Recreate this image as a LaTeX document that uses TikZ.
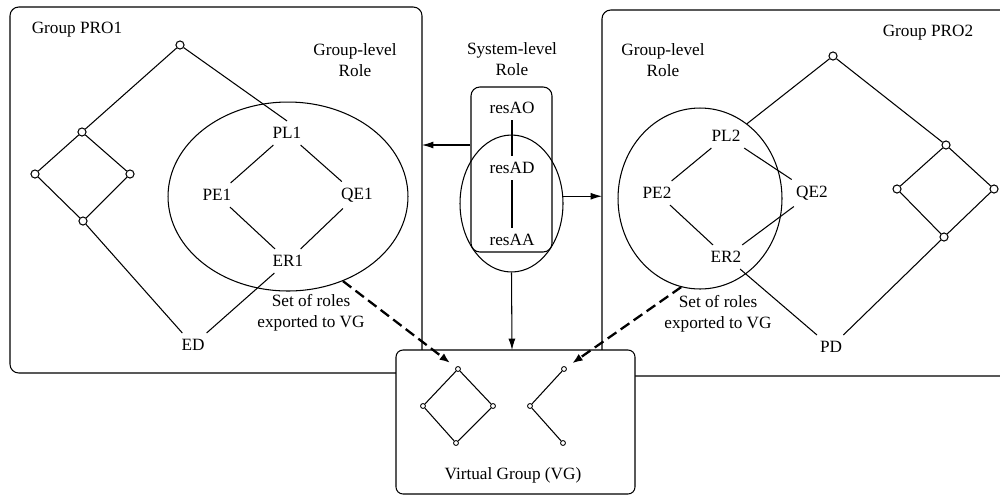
\documentclass[tikz,border=0pt]{standalone}
\usepackage{fontspec}
\setmainfont{Liberation Serif}
\usetikzlibrary{shapes.geometric,arrows.meta}

\begin{document}
\begin{tikzpicture}[x=0.02cm, y=-0.02cm, line width=0.6pt,
    every node/.style={font=\fontsize{9.8}{11.8}\selectfont},
    vtx/.style={circle, draw, fill=white, inner sep=0pt, minimum size=4.6pt},
    svtx/.style={circle, draw, fill=white, inner sep=0pt, minimum size=2.8pt, line width=0.5pt},
    roleset/.style={ellipse, draw, inner sep=0pt},
    toward/.style={-{Latex[length=6.5pt,width=4pt]}},
    export/.style={-{Latex[length=6pt,width=4.5pt]}, line width=1.3pt, dash pattern=on 6pt off 3pt, shorten >=4pt}]
    \useasboundingbox (0,0) rectangle (1000,495);
    \clip (0,0) rectangle (1000,495);

    % Draw the two group boxes
    \draw[rounded corners=5pt] (10,7) rectangle (422,373);
    \draw[rounded corners=5pt] (602,10) rectangle (1012,376);
    \coordinate (pro1e) at (422,145);
    \coordinate (pro2w) at (602,196);

    % Group PRO1
    \node at (77,30) {Group PRO1};
    \node[align=center] at (355,60) {Group-level\\Role};
    \node[vtx] (a1) at (180,45) {};
    \node[vtx] (a2) at (82,132) {};
    \node[vtx] (a3) at (35,174) {};
    \node[vtx] (a4) at (130,174) {};
    \node[vtx] (a5) at (83,221) {};
    \node[roleset, minimum width=4.8cm, minimum height=3.78cm] (ell1) at (288,196.5) {};
    \node (pl1) at (287,133) {PL1};
    \node (pe1) at (217,195) {PE1};
    \node (qe1) at (357,195) {QE1};
    \node (er1) at (288,261) {ER1};
    \node (ed) at (193,345) {ED};
    \node[align=center] at (311,313) {Set of roles\\exported to VG};
    \draw (a1) -- (pl1.north); % top to PL1
    \draw (a1) -- (a2);
    \draw (a2) -- (a3) -- (a5) -- (a4) -- (a2); % diamond
    \draw (a5) -- (ed);
    \draw (pl1) -- (pe1);
    \draw (pl1) -- (qe1);
    \draw (pe1) -- (er1);
    \draw (qe1) -- (er1);
    \draw (er1) -- (ed);

    % Group PRO2
    \node at (928,33) {Group PRO2};
    \node[align=center] at (663,60) {Group-level\\Role};
    \node[vtx] (b1) at (833,56) {};
    \node[vtx] (b2) at (946,145) {};
    \node[vtx] (b3) at (897,189) {};
    \node[vtx] (b4) at (994,189) {};
    \node[vtx] (b5) at (944,237) {};
    \node[roleset, minimum width=3.28cm, minimum height=3.62cm] (ell2) at (700,198.5) {};
    \node (pl2) at (726,136) {PL2};
    \node (pe2) at (657,193) {PE2};
    \node (qe2) at (812,193) {QE2};
    \node (er2) at (726,257) {ER2};
    \node (pd) at (831,347) {PD};
    \node[align=center] at (718,314) {Set of roles\\exported to VG};
    \draw (b1) -- (pl2.north east); % top to PL2
    \draw (b1) -- (b2);
    \draw (b2) -- (b3) -- (b5) -- (b4) -- (b2); % diamond
    \draw (b5) -- (pd);
    \draw (pl2) -- (pe2);
    \draw (pl2) -- (qe2);
    \draw (pe2) -- (er2);
    \draw (qe2) -- (er2);
    \draw (er2) -- (pd);

    % System-level roles
    \node[align=center] at (512,59) {System-level\\Role};
    \node[draw, rounded corners=5pt, minimum width=1.62cm, minimum height=3.3cm] (sysbox) at (511.5,169.5) {};
    \node[roleset, minimum width=2.06cm, minimum height=2.74cm] (sysell) at (511.5,203.5) {};
    \node (resao) at (512,108) {resAO};
    \node (resad) at (512,168) {resAD};
    \node (resaa) at (512,240) {resAA};
    \draw (resao) -- (resad);
    \draw (resad) -- (resaa);

    % Virtual group
    \draw[fill=white, rounded corners=4pt] (396,350) rectangle (635,494);
    \coordinate (vgt) at (512,350);
    \node[svtx] (v1) at (458,369) {};
    \node[svtx] (v2) at (423,406) {};
    \node[svtx] (v3) at (493,406) {};
    \node[svtx] (v4) at (456,443) {};
    \node[svtx] (w1) at (564,369) {};
    \node[svtx] (w2) at (530,406) {};
    \node[svtx] (w3) at (563,443) {};
    \node at (513,475) {Virtual Group (VG)};
    \draw (v1) -- (v2) -- (v4) -- (v3) -- (v1);
    \draw (w1) -- (w2) -- (w3);

    % Arrows
    \draw[toward] (pro1e -| sysbox.west) -- (pro1e);
    \draw[toward] (sysell.8) -- (sysell.8 -| pro2w);
    \draw[toward] (sysell.south) -- (vgt);
    \draw[export] (ell1.-57) -- (v1);
    \draw[export] (ell2.-102) -- (w1);
\end{tikzpicture}
\end{document}
